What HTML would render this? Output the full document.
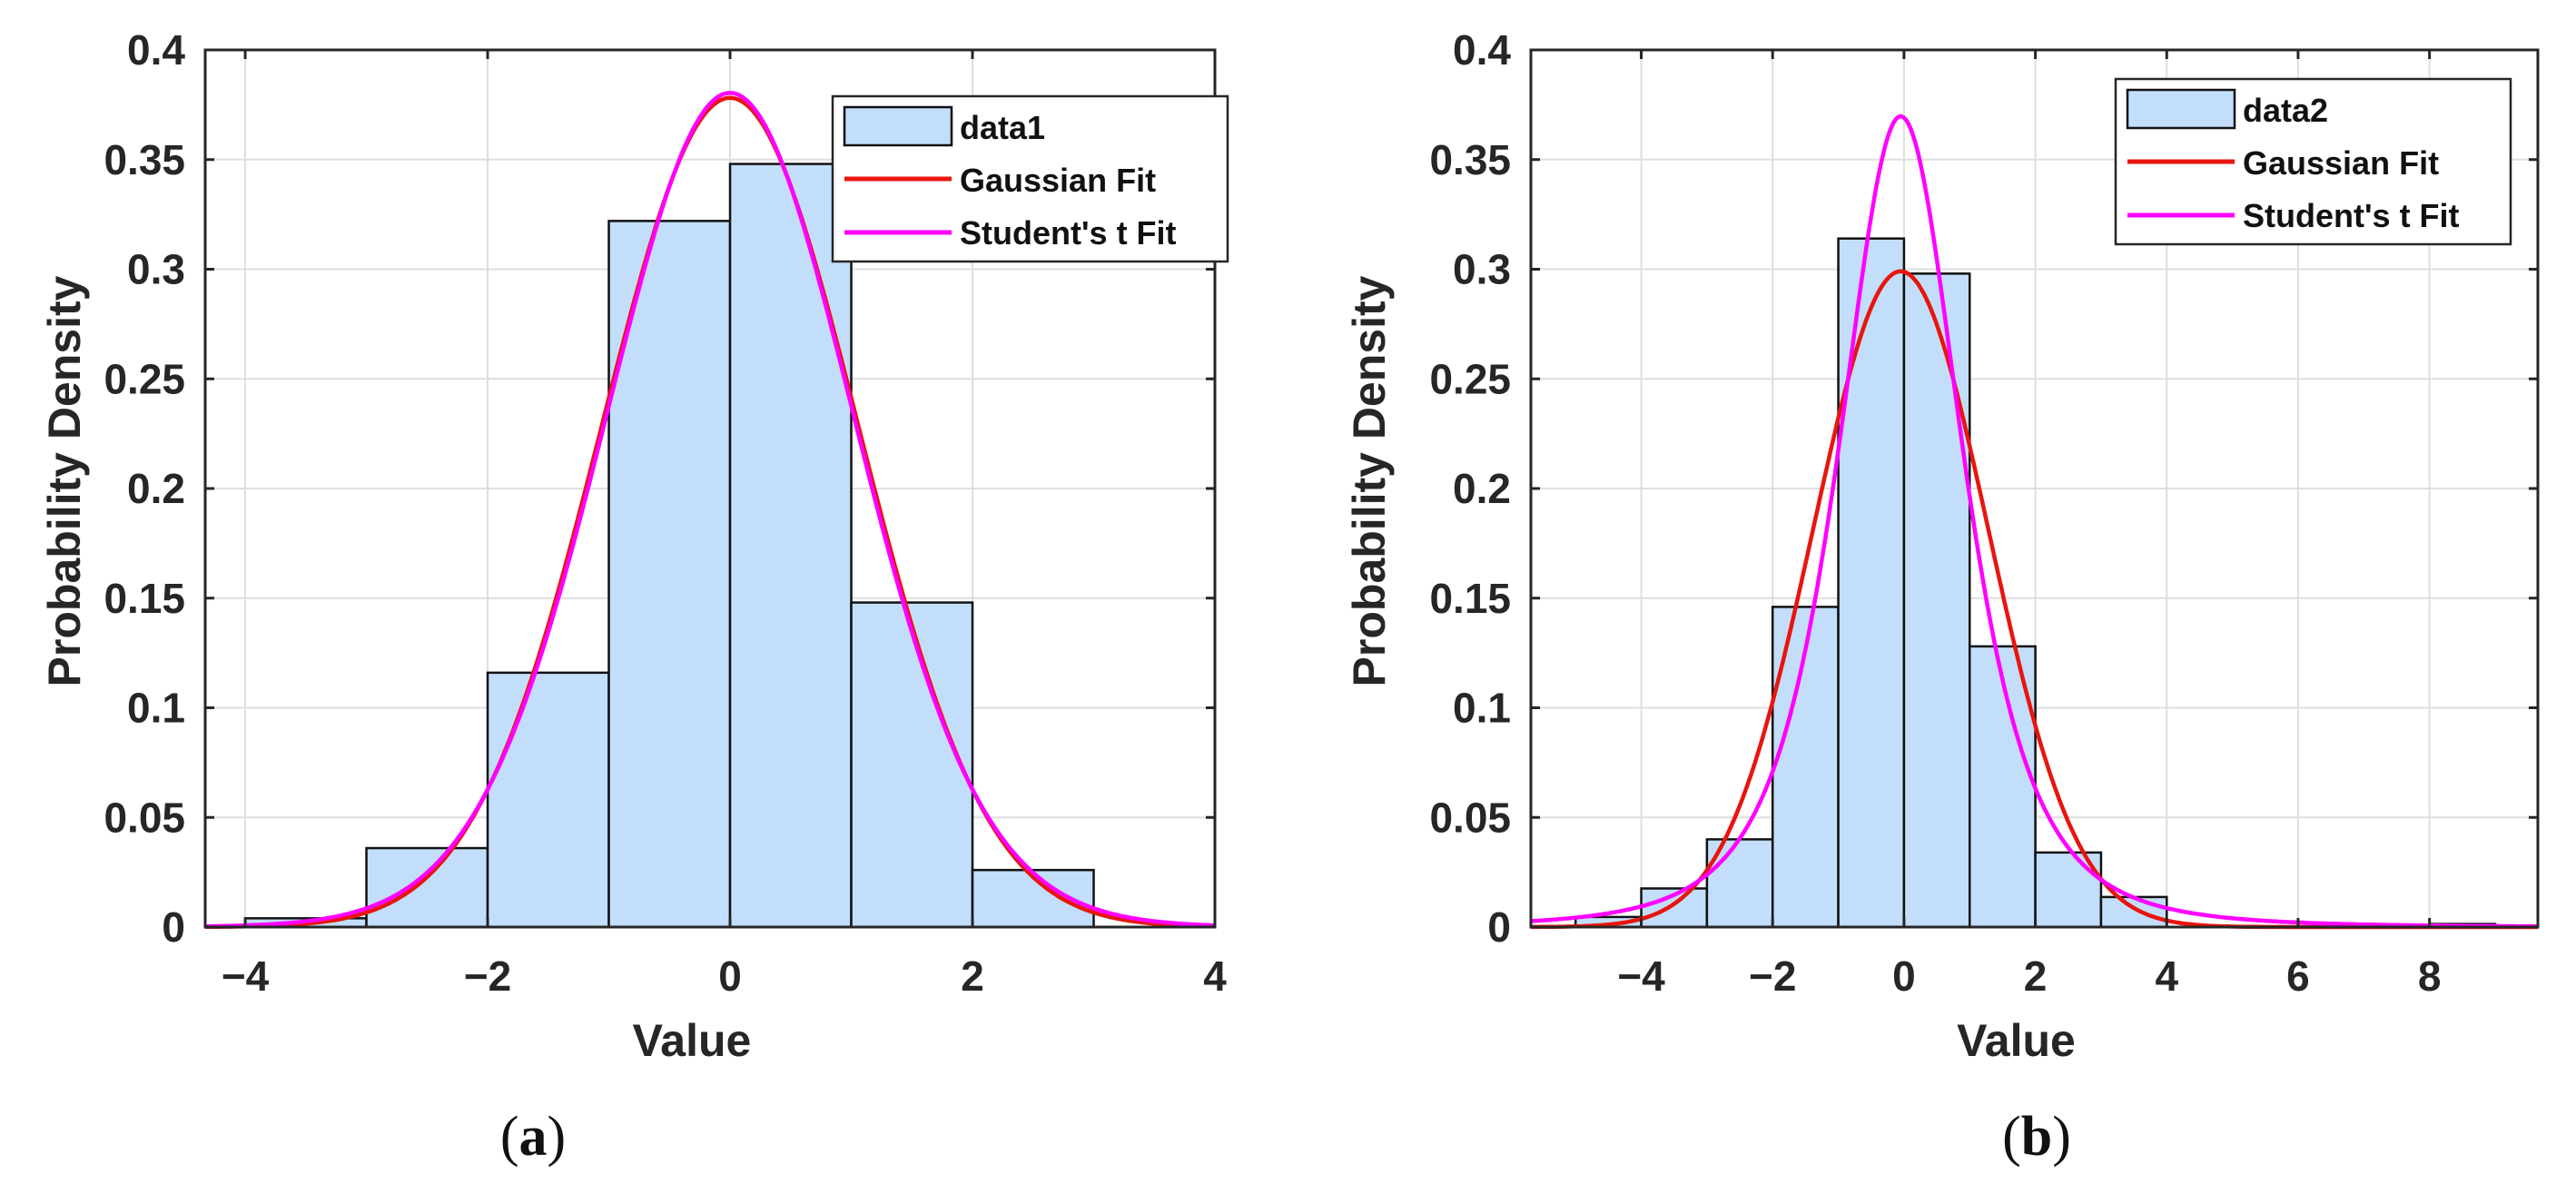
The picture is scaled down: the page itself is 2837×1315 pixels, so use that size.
<!DOCTYPE html>
<html><head><meta charset="utf-8"><style>
html,body{margin:0;padding:0;background:#fff;}
svg{display:block;}
text{font-family:"Liberation Sans",Arial,sans-serif;}
</style></head><body>
<svg id="fig" width="2837" height="1315" viewBox="0 0 2837 1315" xmlns="http://www.w3.org/2000/svg">
<rect x="0" y="0" width="2837" height="1315" fill="#fff"/>
</svg>
<script>
// ---- Panel (a) data ----
const binEdgesA = [-4, -3, -2, -1, 0, 1, 2, 3];
const binHeightsA = [0.004, 0.036, 0.116, 0.322, 0.348, 0.148, 0.026];
const gaussA = [0.0, 1.055];            // mu, sigma
const tFitA = [0.0, 1.04, 30];          // mu, scale, nu
const xTicksA = [-4, -2, 0, 2, 4];
const xTickLabelsA = ["\u22124", "\u22122", "0", "2", "4"];
// ---- Panel (b) data ----
const binEdgesB = [-5, -4, -3, -2, -1, 0, 1, 2, 3, 4, 5, 6, 7, 8, 9];
const binHeightsB = [0.0046, 0.0176, 0.040, 0.146, 0.314, 0.298, 0.128, 0.034, 0.0137, 0, 0, 0, 0, 0.0014];
const gaussB = [-0.05, 1.334];
const tFitB = [-0.05, 0.994, 3];
const xTicksB = [-4, -2, 0, 2, 4, 6, 8];
const xTickLabelsB = ["\u22124", "\u22122", "0", "2", "4", "6", "8"];
// ---- shared ----
const yTicks = [0, 0.05, 0.1, 0.15, 0.2, 0.25, 0.3, 0.35, 0.4];
const yTickLabels = ["0", "0.05", "0.1", "0.15", "0.2", "0.25", "0.3", "0.35", "0.4"];

const NS = "http://www.w3.org/2000/svg";
const svg = document.getElementById('fig');
function mk(tag, attrs, parent) {
  const e = document.createElementNS(NS, tag);
  for (const k in attrs) e.setAttribute(k, attrs[k]);
  (parent || svg).appendChild(e);
  return e;
}
function lgamma(z){ // Lanczos
  const g=7, c=[0.99999999999980993,676.5203681218851,-1259.1392167224028,771.32342877765313,-176.61502916214059,12.507343278686905,-0.13857109526572012,9.9843695780195716e-6,1.5056327351493116e-7];
  if (z<0.5) return Math.log(Math.PI/Math.sin(Math.PI*z)) - lgamma(1-z);
  z-=1; let x=c[0]; for(let i=1;i<g+2;i++) x+=c[i]/(z+i);
  const t=z+g+0.5; return 0.5*Math.log(2*Math.PI)+(z+0.5)*Math.log(t)-t+Math.log(x);
}
function gaussPdf(x,p){ const z=(x-p[0])/p[1]; return Math.exp(-0.5*z*z)/(p[1]*Math.sqrt(2*Math.PI)); }
function tPdf(x,p){ const nu=p[2], s=p[1], z=(x-p[0])/s;
  const c=Math.exp(lgamma((nu+1)/2)-lgamma(nu/2))/Math.sqrt(nu*Math.PI);
  return c*Math.pow(1+z*z/nu,-(nu+1)/2)/s; }

function panel(cfg){
  const g = mk('g', {});
  
  
  const L=cfg.left, R=cfg.right, T=55, B=1021;
  const sx = v => L + (v-cfg.xmin)/(cfg.xmax-cfg.xmin)*(R-L);
  const sy = v => B - v/0.4*(B-T);
  yTicks.forEach(v=>{ const l=mk('line',{x1:L,x2:R,y1:sy(v),y2:sy(v),stroke:'#dedede','stroke-width':2},g);
      });
  cfg.xticks.forEach(v=>{ const l=mk('line',{x1:sx(v),x2:sx(v),y1:T,y2:B,stroke:'#dedede','stroke-width':2},g);
      });
  cfg.heights.forEach((h,i)=>{
    if (h<=0) return;
    const x0=sx(cfg.edges[i]), x1=sx(cfg.edges[i+1]);
    const r=mk('rect',{x:x0,y:sy(h),width:x1-x0,height:B-sy(h),fill:'#c2defa',stroke:'#111','stroke-width':2.5},g);
     
  });
  function curve(fn,p,color,name){
    let d=''; const n=400;
    for(let i=0;i<=n;i++){ const x=cfg.xmin+(cfg.xmax-cfg.xmin)*i/n; d+=(i?'L':'M')+sx(x).toFixed(1)+','+sy(fn(x,p)).toFixed(1); }
    const pth=mk('path',{d:d,fill:'none',stroke:color,'stroke-width':4.5},g);
     
  }
  curve(gaussPdf,cfg.gauss,'#e8150e','gaussian-fit-curve');
  curve(tPdf,cfg.tfit,'#ff00ff','students-t-fit-curve');
  const box=mk('rect',{x:L,y:T,width:R-L,height:B-T,fill:'none',stroke:'#262626','stroke-width':3},g);
   
  yTicks.forEach((v,i)=>{
    mk('line',{x1:L,x2:L+10,y1:sy(v),y2:sy(v),stroke:'#262626','stroke-width':3},g);
    mk('line',{x1:R,x2:R-10,y1:sy(v),y2:sy(v),stroke:'#262626','stroke-width':3},g);
    const t=mk('text',{x:L-22,y:sy(v)+16,'text-anchor':'end','font-size':46,'font-weight':'bold',fill:'#262626'},g);
    t.textContent=yTickLabels[i];
     
  });
  cfg.xticks.forEach((v,i)=>{
    mk('line',{x1:sx(v),x2:sx(v),y1:B,y2:B-10,stroke:'#262626','stroke-width':3},g);
    mk('line',{x1:sx(v),x2:sx(v),y1:T,y2:T+10,stroke:'#262626','stroke-width':3},g);
    const t=mk('text',{x:sx(v),y:1091,'text-anchor':'middle','font-size':46,'font-weight':'bold',fill:'#262626'},g);
    t.textContent=cfg.xlabels[i];
     
  });
  const xt=mk('text',{x:(L+R)/2-20,y:1163,'text-anchor':'middle','font-size':50,'font-weight':'bold',fill:'#262626'},g);
  xt.textContent='Value';
   
  const yt=mk('text',{x:0,y:0,'text-anchor':'middle','font-size':50,'font-weight':'bold',fill:'#262626',transform:`translate(${cfg.ylabX},530) rotate(-90)`},g);
  yt.textContent='Probability Density';
   
  const lg=mk('g',{},g);
   
  const lx=cfg.leg[0], ly=cfg.leg[1], lw=435, lh=182;
  mk('rect',{x:lx,y:ly,width:lw,height:lh,fill:'#fff',stroke:'#262626','stroke-width':2.5},lg);
  const pr=mk('rect',{x:lx+13,y:ly+12,width:118,height:42,fill:'#c2defa',stroke:'#111','stroke-width':2.5},lg);
   
  const l1=mk('line',{x1:lx+13,x2:lx+131,y1:ly+91,y2:ly+91,stroke:'#e8150e','stroke-width':5},lg);
   
  const l2=mk('line',{x1:lx+13,x2:lx+131,y1:ly+150,y2:ly+150,stroke:'#ff00ff','stroke-width':5},lg);
   
  [[cfg.dataName,47],['Gaussian Fit',105],["Student's t Fit",163]].forEach(a=>{
    const t=mk('text',{x:lx+140,y:ly+a[1],'font-size':36,'font-weight':'bold',fill:'#111'},lg);
    t.textContent=a[0];
     
  });
  const cap=mk('text',{x:cfg.capX,y:1272,'text-anchor':'middle','font-size':62,fill:'#111',style:'font-family:"Liberation Serif",serif'},g);
  cap.innerHTML='(<tspan font-weight="bold">'+cfg.cap+'</tspan>)';
   
}

panel({name:'panel-a',left:226,right:1338,xmin:-4.33,xmax:4,edges:binEdgesA,heights:binHeightsA,
  gauss:gaussA,tfit:tFitA,xticks:xTicksA,xlabels:xTickLabelsA,ylabX:88,leg:[917,106],dataName:'data1',capX:587,cap:'a'});
panel({name:'panel-b',left:1686,right:2795,xmin:-5.68,xmax:9.65,edges:binEdgesB,heights:binHeightsB,
  gauss:gaussB,tfit:tFitB,xticks:xTicksB,xlabels:xTickLabelsB,ylabX:1525,leg:[2330,87],dataName:'data2',capX:2243,cap:'b'});
</script>
</body></html>
